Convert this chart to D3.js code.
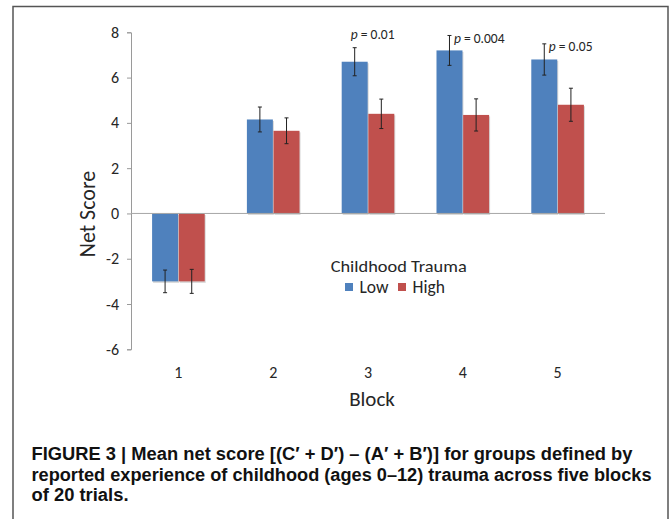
<!DOCTYPE html>
<html>
<head>
<meta charset="utf-8">
<script src="https://cdn.jsdelivr.net/npm/d3@7"></script>
<style>
  html, body { margin: 0; padding: 0; background: #fff; }
  svg { display: block; }
  .chart-text { font-family: "Carlito", "Lato", "Open Sans", sans-serif; fill: #262626; }
  .caption { font-family: "Liberation Sans", Arial, sans-serif; font-weight: bold; fill: #111; }
</style>
</head>
<body>
<svg id="fig" width="670" height="519"></svg>
<script>
// Mean net score per block, by childhood-trauma group
const blocks = ["1", "2", "3", "4", "5"];
const seriesNames = ["Low", "High"];
const lowMean = [-3.0, 4.15, 6.7, 7.2, 6.8];
const highMean = [-3.0, 3.65, 4.4, 4.35, 4.8];
const lowErr = [0.5, 0.55, 0.62, 0.66, 0.69];
const highErr = [0.53, 0.57, 0.65, 0.71, 0.73];
const pValues = [null, null, "0.01", "0.004", "0.05"];
const yTicks = [-6, -4, -2, 0, 2, 4, 6, 8];
const colors = ["#4F81BD", "#C0504D"];

const captionLines = [
  "FIGURE 3 | Mean net score [(C\u2032 + D\u2032) \u2013 (A\u2032 + B\u2032)] for groups defined by",
  "reported experience of childhood (ages 0\u201312) trauma across five blocks",
  "of 20 trials."
];
const captionWidths = [601, 620, 97];

const svg = d3.select("#fig");

// outer frame
svg.append("rect")
  .attr("x", 13).attr("y", 6.5)
  .attr("width", 655).attr("height", 530)
  .attr("fill", "none").attr("stroke", "#555").attr("stroke-width", 1.5);

const plot = { left: 131, right: 605, top: 32.3, bottom: 349.3 };

const y = d3.scaleLinear().domain([-6, 8]).range([plot.bottom, plot.top]);
const x = d3.scaleBand().domain(blocks).range([plot.left, plot.right])
  .paddingInner(0.445).paddingOuter(0.2225);
const xs = d3.scaleBand().domain(seriesNames).range([0, x.bandwidth()]).paddingInner(0.025);

const rows = blocks.map((b, i) => ({
  block: b,
  values: [
    { name: "Low", mean: lowMean[i], err: lowErr[i] },
    { name: "High", mean: highMean[i], err: highErr[i] }
  ],
  p: pValues[i]
}));

// y axis
const yAxis = d3.axisLeft(y).tickValues(yTicks).tickSize(4).tickPadding(8).tickFormat(d3.format("d"));
const yg = svg.append("g").attr("transform", `translate(${plot.left},0)`).call(yAxis);
yg.select(".domain").attr("stroke", "#9a9a9a");
yg.selectAll(".tick line").attr("stroke", "#9a9a9a");
yg.selectAll(".tick text").attr("class", "chart-text").style("font-size", "16px")
  .text(d => d < 0 ? "-" + Math.abs(d) : d);

// bar groups
const groups = svg.append("g").selectAll("g").data(rows).join("g")
  .attr("transform", d => `translate(${x(d.block)},0)`);

// soft shadow under each bar
groups.selectAll("rect.shadow").data(d => d.values).join("rect")
  .attr("class", "shadow")
  .attr("x", d => xs(d.name) + 1)
  .attr("y", d => Math.min(y(d.mean), y(0)) + 1.5)
  .attr("width", xs.bandwidth())
  .attr("height", d => Math.abs(y(d.mean) - y(0)))
  .attr("fill", "#bdbdbd").attr("opacity", 0.6);

groups.selectAll("rect.bar").data(d => d.values).join("rect")
  .attr("class", "bar")
  .attr("x", d => xs(d.name))
  .attr("y", d => Math.min(y(d.mean), y(0)))
  .attr("width", xs.bandwidth())
  .attr("height", d => Math.abs(y(d.mean) - y(0)))
  .attr("fill", (d, i) => colors[i]);

// zero line
svg.append("line")
  .attr("x1", plot.left).attr("x2", plot.right)
  .attr("y1", y(0)).attr("y2", y(0))
  .attr("stroke", "#a6a6a6").attr("stroke-width", 1);

// error bars
const eb = groups.selectAll("g.err").data(d => d.values).join("g").attr("class", "err")
  .attr("transform", d => `translate(${xs(d.name) + xs.bandwidth() / 2},0)`);
eb.append("line").attr("y1", d => y(d.mean + d.err)).attr("y2", d => y(d.mean - d.err))
  .attr("stroke", "#222").attr("stroke-width", 1);
eb.append("line").attr("x1", -2).attr("x2", 2)
  .attr("y1", d => y(d.mean + d.err)).attr("y2", d => y(d.mean + d.err))
  .attr("stroke", "#222").attr("stroke-width", 1);
eb.append("line").attr("x1", -2).attr("x2", 2)
  .attr("y1", d => y(d.mean - d.err)).attr("y2", d => y(d.mean - d.err))
  .attr("stroke", "#222").attr("stroke-width", 1);

// significance annotations above the low-trauma bars
rows.filter(d => d.p).forEach(d => {
  const low = d.values[0];
  const cx = x(d.block) + xs("Low") + xs.bandwidth() / 2;
  const topY = y(low.mean + low.err);
  const t = svg.append("text").attr("class", "chart-text").style("font-size", "13.5px");
  if (d.block === "3") {
    t.attr("x", cx + 18).attr("y", topY - 9).attr("text-anchor", "middle");
  } else {
    t.attr("x", cx + 4.5).attr("y", topY + 7.5);
  }
  t.append("tspan").style("font-style", "italic").text("p");
  t.append("tspan").text(" = " + d.p);
});

// x tick labels
svg.append("g").selectAll("text").data(blocks).join("text")
  .attr("class", "chart-text")
  .attr("x", d => x(d) + x.bandwidth() / 2)
  .attr("y", 377.7)
  .attr("text-anchor", "middle")
  .style("font-size", "16px")
  .text(d => d);

// axis titles
svg.append("text").attr("class", "chart-text")
  .attr("x", 372).attr("y", 406).attr("text-anchor", "middle")
  .style("font-size", "21px").text("Block");
svg.append("text").attr("class", "chart-text")
  .attr("transform", `translate(87,214) rotate(-90)`)
  .attr("text-anchor", "middle").attr("dy", "0.35em")
  .style("font-size", "22px").text("Net Score");

// legend
const legend = svg.append("g");
legend.append("text").attr("class", "chart-text")
  .attr("x", 398.7).attr("y", 272).attr("text-anchor", "middle")
  .attr("textLength", 136).attr("lengthAdjust", "spacingAndGlyphs")
  .style("font-size", "17px").text("Childhood Trauma");
const legendX = [345, 398];
seriesNames.forEach((name, i) => {
  legend.append("rect").attr("x", legendX[i]).attr("y", 283)
    .attr("width", 8).attr("height", 8).attr("fill", colors[i]);
  legend.append("text").attr("class", "chart-text")
    .attr("x", legendX[i] + 14.5).attr("y", 292.5)
    .style("font-size", "17.5px").text(name);
});

// caption
svg.append("g").selectAll("text").data(captionLines).join("text")
  .attr("class", "caption")
  .attr("x", 31.5)
  .attr("y", (d, i) => 460 + i * 20.7)
  .attr("textLength", (d, i) => captionWidths[i])
  .attr("lengthAdjust", "spacingAndGlyphs")
  .style("font-size", "18px")
  .text(d => d);
</script>
</body>
</html>
